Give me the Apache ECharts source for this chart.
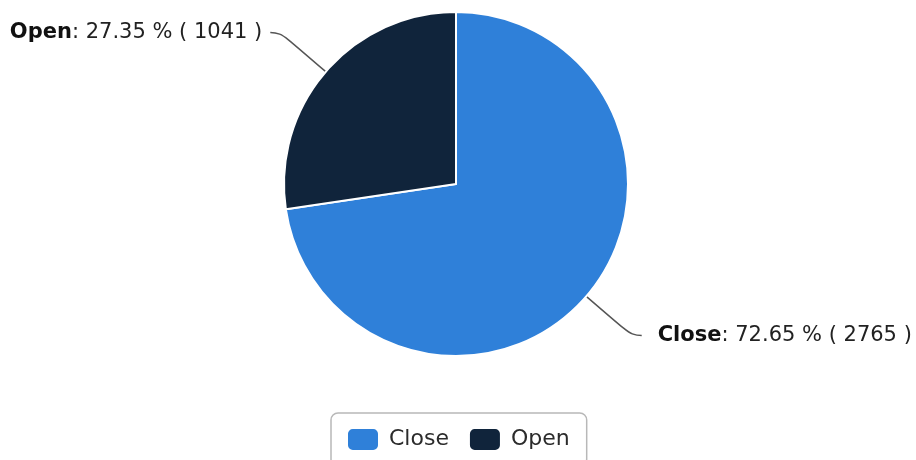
<!DOCTYPE html>
<html>
<head>
<meta charset="utf-8">
<style>
  html, body { margin: 0; padding: 0; background: #ffffff; }
  #chart { width: 916px; height: 460px; }
</style>
<script src="https://cdn.jsdelivr.net/npm/echarts@6/dist/echarts.min.js"></script>
</head>
<body>
<div id="chart"></div>
<script>
// Status breakdown: closed vs open items
const categories = ['Close', 'Open'];
const counts = [2765, 1041];
const colors = ['#2f80d9', '#10243b'];
// gap between each connector line and its label
const labelGaps = [16, 8];

const chart = echarts.init(document.getElementById('chart'), null, { renderer: 'canvas' });

const font = '"DejaVu Sans", Verdana, sans-serif';

chart.setOption({
  animation: false,
  color: colors,
  legend: {
    data: categories,
    left: 331,
    top: 413,
    orient: 'horizontal',
    itemWidth: 32,
    itemHeight: 23,
    itemGap: 19,
    icon: 'roundRect',
    padding: [14, 17, 14, 15],
    borderColor: '#b8b8b8',
    borderWidth: 1.5,
    borderRadius: 7,
    textStyle: {
      fontFamily: font,
      fontSize: 22,
      color: '#2b2b2b',
      padding: [0, 0, 0, 5]
    }
  },
  series: [{
    type: 'pie',
    center: [456, 184],
    radius: [0, 172],
    startAngle: 90,
    clockwise: true,
    data: categories.map((name, i) => ({
      name: name,
      value: counts[i],
      label: { distanceToLabelLine: labelGaps[i] }
    })),
    itemStyle: {
      borderColor: '#ffffff',
      borderWidth: 2
    },
    label: {
      show: true,
      formatter: '{n|{b}}: {d} % ( {c} )',
      fontFamily: font,
      fontSize: 21,
      color: '#222222',
      overflow: 'none',
      edgeDistance: 0,
      rich: {
        n: { fontFamily: font, fontSize: 21, fontWeight: 'bold', color: '#111111' }
      }
    },
    labelLayout: { hideOverlap: false },
    labelLine: {
      show: true,
      length: 60,
      length2: 10,
      smooth: 0.5,
      lineStyle: { color: '#555555', width: 1.5 }
    },
    emphasis: { disabled: true }
  }]
});
</script>
</body>
</html>
